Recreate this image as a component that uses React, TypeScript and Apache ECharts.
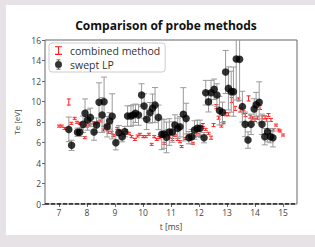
import React, { useEffect, useRef } from "react";
import * as echarts from "echarts";

const xTicks = [7, 8, 9, 10, 11, 12, 13, 14, 15];
const yTicks = [0, 2, 4, 6, 8, 10, 12, 14, 16];

// swept LP (black points with error bars)
const tLP = [7.35,7.45,7.66,7.74,7.86,7.93,8.02,8.12,8.25,8.34,8.43,8.54,8.61,8.72,8.81,8.9,9.03,9.14,9.26,9.35,9.45,9.57,9.65,9.73,9.84,9.95,10.04,10.13,10.25,10.34,10.43,10.55,10.67,10.75,10.84,10.94,11.05,11.14,11.24,11.32,11.44,11.54,11.64,11.74,11.84,11.94,12.04,12.18,12.24,12.34,12.43,12.54,12.64,12.73,12.84,12.95,13.05,13.15,13.23,13.33,13.45,13.55,13.65,13.75,13.86,13.97,14.04,14.15,14.25,14.35,14.45,14.55,14.64];
const teLP = [7.28,5.72,7.0,7.0,7.77,8.85,8.2,8.45,7.02,7.7,9.92,8.68,9.98,7.54,8.1,8.55,5.98,6.96,6.57,7.06,8.58,8.58,8.68,8.85,8.68,10.63,9.56,8.26,8.9,9.33,9.66,8.45,6.8,6.83,6.5,7.02,7.02,7.7,7.38,7.54,8.75,8.33,6.47,6.57,7.22,7.38,7.38,6.47,10.86,9.98,10.86,11.19,10.63,9.11,8.94,12.88,11.28,10.96,10.96,14.15,14.11,9.5,7.77,6.24,7.77,9.27,9.69,9.92,7.77,6.57,7.06,6.57,6.47];
const errLP = [1.2,0.5,0.4,0.4,0.8,1.4,1.0,0.9,0.8,0.7,1.9,1.7,2.4,1.0,0.8,2.2,0.7,0.7,0.5,0.5,1.0,1.0,1.0,0.9,1.0,1.1,1.2,1.0,1.0,1.4,1.7,1.2,1.5,1.4,1.5,1.3,1.0,1.0,1.0,1.0,2.6,1.5,0.6,0.7,0.9,0.8,0.8,0.5,1.2,1.0,1.2,1.0,1.1,1.4,1.0,2.1,2.1,2.0,2.4,4.0,4.0,1.5,1.2,0.8,1.0,1.0,1.2,2.0,1.0,0.8,1.0,0.6,0.9];

// combined method (red error bars)
const tCM = [7.0,7.1,7.2,7.35,7.44,7.56,7.64,7.74,7.8,7.92,8.0,8.1,8.22,8.31,8.4,8.49,8.59,8.7,8.76,8.88,8.94,9.08,9.18,9.3,9.39,9.5,9.59,9.71,9.81,9.89,10.01,10.1,10.21,10.31,10.4,10.49,10.58,10.67,10.76,10.84,10.94,11.05,11.14,11.24,11.32,11.38,11.5,11.6,11.68,11.78,11.86,11.96,12.04,12.14,12.24,12.34,12.43,12.52,12.62,12.7,12.8,12.88,12.96,13.05,13.17,13.29,13.41,13.47,13.59,13.66,13.77,13.83,13.91,14.0,14.09,14.18,14.26,14.36,14.42,14.48,14.57,14.66,14.75,14.84,14.9,15.0];
const teCM = [7.6,7.6,7.38,9.95,7.87,8.36,7.97,7.87,7.38,6.47,7.6,7.7,7.93,7.87,8.0,8.1,7.22,7.6,7.0,7.0,6.67,7.38,7.12,6.96,7.15,6.9,6.57,6.3,6.63,6.8,6.57,6.57,6.8,5.82,6.57,6.3,6.47,6.57,5.92,7.12,6.63,6.3,6.7,6.3,6.08,5.6,6.4,6.73,6.3,5.92,6.63,6.96,6.63,7.7,7.28,6.9,6.47,7.7,9.5,8.42,7.6,7.93,8.75,8.75,10.15,9.33,10.2,9.17,8.94,8.68,10.3,8.52,8.36,8.2,8.42,9.43,8.45,8.45,8.2,8.68,8.2,7.22,7.7,7.22,7.12,6.73];
const errCM = [0.1,0.1,0.1,0.3,0.1,0.1,0.1,0.1,0.1,0.1,0.1,0.1,0.1,0.1,0.1,0.1,0.1,0.1,0.1,0.1,0.1,0.1,0.1,0.1,0.1,0.1,0.1,0.1,0.1,0.1,0.1,0.1,0.1,0.1,0.1,0.1,0.1,0.1,0.1,0.1,0.1,0.1,0.1,0.1,0.1,0.1,0.1,0.1,0.1,0.1,0.1,0.1,0.1,0.15,0.1,0.1,0.15,0.15,0.2,0.15,0.1,0.1,0.15,0.15,0.25,0.2,0.15,0.2,0.15,0.15,0.25,0.15,0.15,0.15,0.15,0.2,0.15,0.15,0.15,0.15,0.15,0.1,0.1,0.1,0.1,0.1];

const X_MIN = 6.5;
const X_MAX = 15.5;
const Y_MAX = 16;

const makeErr = (color: string, hw: number, lw: number) => (_p: any, api: any) => {
  const x = api.value(0);
  const y = api.value(1);
  const e = api.value(2);
  const hi = y + e;
  const top = api.coord([x, Math.min(hi, Y_MAX)]);
  const bot = api.coord([x, y - e]);
  const style = { stroke: color, lineWidth: lw };
  const children: any[] = [
    { type: "line", shape: { x1: top[0], y1: top[1], x2: bot[0], y2: bot[1] }, style },
    { type: "line", shape: { x1: bot[0] - hw, y1: bot[1], x2: bot[0] + hw, y2: bot[1] }, style },
  ];
  if (hi <= Y_MAX) {
    children.push({ type: "line", shape: { x1: top[0] - hw, y1: top[1], x2: top[0] + hw, y2: top[1] }, style });
  }
  return { type: "group", children };
};

export default function App() {
  const ref = useRef<HTMLDivElement>(null);
  useEffect(() => {
    if (!ref.current) return;
    const chart = echarts.init(ref.current, undefined, { renderer: "svg" });
    const font = "Open Sans";
    const cmData = tCM.map((t, i) => [t, teCM[i], errCM[i]]);
    const lpData = tLP.map((t, i) => [t, teLP[i], errLP[i]]);
    chart.setOption({
      animation: false,
      backgroundColor: "#e6e2e5",
      textStyle: { fontFamily: font },
      graphic: [
        {
          type: "rect",
          z: -100,
          silent: true,
          shape: { x: 6, y: 5, width: 309, height: 230 },
          style: { fill: "#ffffff" },
        },
      ],
      title: {
        text: "Comparison of probe methods",
        left: 166,
        top: 19,
        textAlign: "center",
        padding: 0,
        textStyle: { fontFamily: font, fontSize: 12, fontWeight: "bold", color: "#111" },
      },
      legend: {
        left: 49,
        top: 43,
        orient: "vertical",
        backgroundColor: "#fff",
        borderColor: "#cccccc",
        borderWidth: 1,
        borderRadius: 3,
        padding: [2, 5, 2, 6],
        itemGap: 3,
        itemWidth: 7,
        itemHeight: 10,
        textStyle: { fontFamily: font, fontSize: 10.5, lineHeight: 11, color: "#333", padding: [0, 0, 0, 3] },
        data: [
          { name: "combined method", icon: "path://M0,0H8V1.2H4.6V8.8H8V10H0V8.8H3.4V1.2H0Z" },
          {
            name: "swept LP",
            icon: "path://M3,0H7V0.8H3Z M4.6,0.8H5.4V1.5H4.6Z M1.5,5A3.5,3.5 0 1 0 8.5,5A3.5,3.5 0 1 0 1.5,5Z M4.6,8.5H5.4V9.2H4.6Z M3,9.2H7V10H3Z",
          },
        ],
      },
      grid: {
        left: 45,
        right: 18,
        top: 40,
        bottom: 43,
        show: true,
        borderColor: "#666",
        borderWidth: 1,
        backgroundColor: "#fff",
      },
      xAxis: {
        type: "value",
        min: X_MIN,
        max: X_MAX,
        name: "t [ms]",
        nameLocation: "middle",
        nameGap: 17,
        nameTextStyle: { fontFamily: font, fontSize: 8.5, color: "#444" },
        axisLine: { show: false },
        axisTick: { show: true, length: 3, customValues: xTicks, lineStyle: { color: "#666" } },
        axisLabel: { customValues: xTicks, fontSize: 8.5, color: "#444", margin: 4, fontFamily: font },
        splitLine: { show: false },
      },
      yAxis: {
        type: "value",
        min: 0,
        max: Y_MAX,
        interval: 2,
        name: "Te [eV]",
        nameLocation: "middle",
        nameGap: 22,
        nameTextStyle: { fontFamily: font, fontSize: 8, color: "#444" },
        axisLine: { show: false },
        axisTick: { show: true, length: 3, customValues: yTicks, lineStyle: { color: "#666" } },
        axisLabel: { customValues: yTicks, fontSize: 8.5, color: "#444", margin: 4, fontFamily: font },
        splitLine: { show: false },
      },
      series: [
        {
          name: "zero",
          type: "line",
          data: [[X_MIN, 0], [X_MAX, 0]],
          symbol: "none",
          silent: true,
          z: 10,
          lineStyle: { color: "#111", width: 1.5, type: [4, 2] },
        },
        {
          name: "combined method",
          type: "custom",
          data: cmData,
          itemStyle: { color: "#ff1a1a" },
          renderItem: makeErr("#ff2020", 2, 1),
          encode: { x: 0, y: 1 },
          z: 2,
        },
        {
          name: "swept LP err",
          type: "custom",
          data: lpData,
          itemStyle: { color: "#999" },
          renderItem: makeErr("#9a9a9a", 3, 1),
          encode: { x: 0, y: 1 },
          z: 3,
        },
        {
          name: "swept LP",
          type: "scatter",
          data: lpData.map((d) => [d[0], d[1]]),
          symbol: "circle",
          symbolSize: 7.5,
          itemStyle: { color: "#000" },
          z: 4,
        },
      ],
    });
    return () => chart.dispose();
  }, []);
  return (
    <div
      ref={ref}
      style={{ position: "fixed", left: 0, top: 0, width: 315, height: 247 }}
    />
  );
}
